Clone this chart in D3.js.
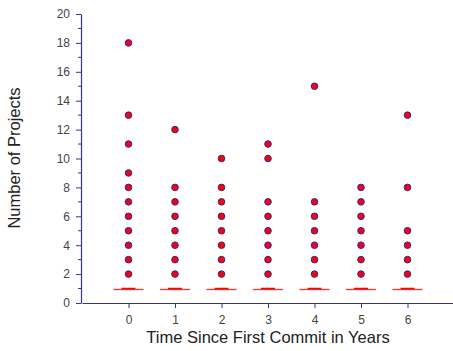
<!DOCTYPE html>
<html>
<head>
  <meta charset="utf-8">
  <script src="https://d3js.org/d3.v7.min.js"></script>
  <style>
    body { margin: 0; background: #fff; }
    text { font-family: "Liberation Sans", Arial, sans-serif; }
  </style>
</head>
<body>
<script>
  // years since first commit
  var years = [0, 1, 2, 3, 4, 5, 6];
  // median per year (box collapsed to a line)
  var medians = [1, 1, 1, 1, 1, 1, 1];
  // outliers per year
  var outliers = [
    [2, 3, 4, 5, 6, 7, 8, 9, 11, 13, 18],
    [2, 3, 4, 5, 6, 7, 8, 12],
    [2, 3, 4, 5, 6, 7, 8, 10],
    [2, 3, 4, 5, 6, 7, 10, 11],
    [2, 3, 4, 5, 6, 7, 15],
    [2, 3, 4, 5, 6, 7, 8],
    [2, 3, 4, 5, 8, 13]
  ];
  var yTicks = [0, 2, 4, 6, 8, 10, 12, 14, 16, 18, 20];

  var W = 453, H = 351;
  var axisCol = "#33339a";

  var svg = d3.select("body").append("svg")
    .attr("width", W).attr("height", H);

  var x = d3.scaleLinear().domain([-1, 7]).range([82, 454]);
  var y = d3.scaleLinear().domain([0, 20]).range([303, 14]);

  // y axis
  var yAxis = svg.append("g")
    .attr("transform", "translate(81,0)")
    .call(d3.axisLeft(y).tickValues(yTicks).tickSize(5).tickPadding(6).tickSizeOuter(0));
  // minor ticks
  yAxis.selectAll(".minor").data(d3.range(1, 20, 2)).enter().append("line")
    .attr("class", "minor")
    .attr("x1", -3).attr("x2", 0)
    .attr("y1", function(d) { return y(d); }).attr("y2", function(d) { return y(d); })
    .attr("stroke", axisCol);

  // x axis
  var xAxis = svg.append("g")
    .attr("transform", "translate(0,303)")
    .call(d3.axisBottom(x).tickValues(years).tickSize(5).tickSizeOuter(0));

  [yAxis, xAxis].forEach(function(g) {
    g.select(".domain").attr("stroke", axisCol).attr("stroke-width", 1.2);
    g.selectAll(".tick line").attr("stroke", axisCol);
    g.selectAll("text").attr("fill", "#444").style("font-size", "12px")
      .style("font-family", "Liberation Sans, Arial, sans-serif");
  });
  xAxis.selectAll("text").attr("dy", "1.1em");

  // axis titles
  svg.append("text")
    .attr("x", 268).attr("y", 343)
    .attr("text-anchor", "middle")
    .style("font-size", "16.5px").attr("fill", "#222")
    .text("Time Since First Commit in Years");

  svg.append("text")
    .attr("transform", "translate(20,158) rotate(-90)")
    .attr("text-anchor", "middle")
    .style("font-size", "16.5px").attr("fill", "#222")
    .text("Number of Projects");

  // median lines
  years.forEach(function(yr, i) {
    var cx = x(yr), cy = Math.round(y(medians[i])) + 0.5;
    svg.append("line")
      .attr("x1", cx - 15).attr("x2", cx + 15)
      .attr("y1", cy).attr("y2", cy)
      .attr("stroke", "#ff3030").attr("stroke-width", 1.3);
    svg.append("line")
      .attr("x1", cx - 7).attr("x2", cx + 7)
      .attr("y1", cy - 1).attr("y2", cy - 1)
      .attr("stroke", "#ff0000").attr("stroke-width", 1.5);
  });

  // outliers
  years.forEach(function(yr, i) {
    svg.selectAll(null).data(outliers[i]).enter().append("circle")
      .attr("cx", x(yr))
      .attr("cy", function(d) { return y(d); })
      .attr("r", 3.3)
      .attr("fill", "#ff0000")
      .attr("stroke", "#2a2a9a")
      .attr("stroke-width", 1);
  });
</script>
</body>
</html>
